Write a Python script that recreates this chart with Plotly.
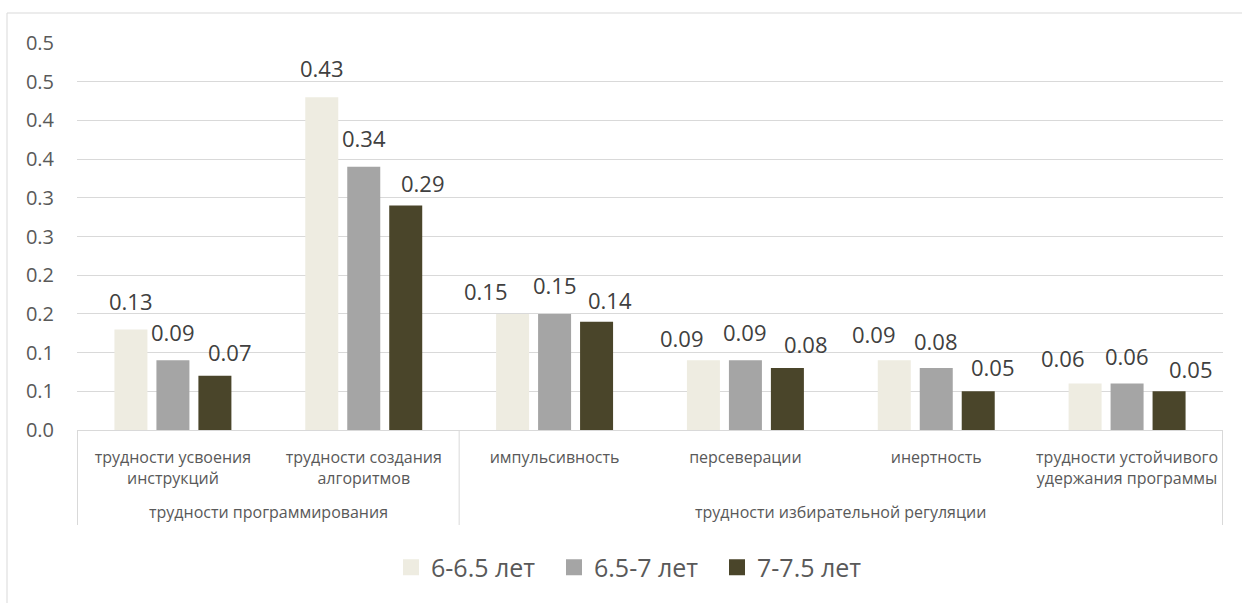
import plotly.graph_objects as go

# ---------------- data ----------------
categories = [
    "трудности усвоения инструкций",
    "трудности создания алгоритмов",
    "импульсивность",
    "персеверации",
    "инертность",
    "трудности устойчивого удержания программы",
]
category_ticklabels = [
    "трудности усвоения<br>инструкций",
    "трудности создания<br>алгоритмов",
    "импульсивность",
    "персеверации",
    "инертность",
    "трудности устойчивого<br>удержания программы",
]
groups = ["трудности программирования", "трудности избирательной регуляции"]
group_members = [[0, 1], [2, 3, 4, 5]]

series_names = ["6-6.5 лет", "6.5-7 лет", "7-7.5 лет"]
values_6_65 = [0.13, 0.43, 0.15, 0.09, 0.09, 0.06]
values_65_7 = [0.09, 0.34, 0.15, 0.09, 0.08, 0.06]
values_7_75 = [0.07, 0.29, 0.14, 0.08, 0.05, 0.05]
series_values = [values_6_65, values_65_7, values_7_75]

y_tickvals = [0.0, 0.05, 0.1, 0.15, 0.2, 0.25, 0.3, 0.35, 0.4, 0.45, 0.5]
y_ticktext = ["0.0", "0.1", "0.1", "0.2", "0.2", "0.3", "0.3", "0.4", "0.4", "0.5", "0.5"]

# ---------------- style ----------------
colors = ["#EEECE1", "#A5A5A5", "#4A452A"]
GRID = "#d9d9d9"
TEXT = "#595959"
LABEL = "#404040"
FONT = "Open Sans"

BAR_PITCH = 42          # px between neighbouring bars of one group
# data-label nudges (px) as placed in the original chart to avoid overlaps
label_dx = [
    [0, 0, -27, -21, -20, -22],
    [0, 0, 0, 0, 0, 0],
    [15, 17, 13, 19, 15, 22],
]
label_gap = [
    [19, 20, 13, 13, 17, 16],
    [19, 19, 19, 19, 18, 18],
    [14, 13, 12, 15, 15, 13],
]
DESCENT = 7.5

fig = go.Figure()

for name, vals, col in zip(series_names, series_values, colors):
    fig.add_trace(go.Bar(
        x=categories, y=vals, name=name,
        marker=dict(color=col, line=dict(width=0)),
        showlegend=False,
    ))

# legend entries with larger square symbols
for name, col in zip(series_names, colors):
    fig.add_trace(go.Scatter(
        x=[None], y=[None], name=name, mode="markers",
        marker=dict(symbol="square", size=16, color=col),
        showlegend=True,
    ))

annotations = []
for si, vals in enumerate(series_values):
    for ci, v in enumerate(vals):
        annotations.append(dict(
            x=categories[ci], xref="x", y=v, yref="y",
            xshift=(si - 1) * BAR_PITCH + label_dx[si][ci],
            yshift=label_gap[si][ci] - DESCENT,
            yanchor="bottom", xanchor="center",
            text=f"{v:.2f}", showarrow=False,
            font=dict(size=22, color=LABEL, family=FONT),
        ))

for gname, members in zip(groups, group_members):
    annotations.append(dict(
        x=sum(members) / len(members), xref="x",
        y=0, yref="paper", yshift=-82, yanchor="middle",
        text=gname, showarrow=False,
        font=dict(size=16, color=TEXT, family=FONT),
    ))

shapes = []
# group dividers on category axis
bounds = [-0.5]
for g in group_members:
    bounds.append(g[-1] + 0.5)
for b in bounds:
    shapes.append(dict(
        type="line", xref="x", x0=b, x1=b,
        yref="paper", ysizemode="pixel", yanchor=0, y0=0, y1=-95,
        line=dict(color=GRID, width=1),
    ))
# chart border
shapes.append(dict(
    type="rect", xref="paper", xsizemode="pixel", xanchor=0, x0=-70, x1=1200,
    yref="paper", ysizemode="pixel", yanchor=1, y0=30, y1=-620,
    line=dict(color=GRID, width=1), fillcolor="rgba(0,0,0,0)", layer="below",
))

fig.update_layout(
    width=1242, height=603,
    margin=dict(l=77, r=19, t=43, b=171),
    paper_bgcolor="white", plot_bgcolor="white",
    font=dict(family=FONT, color=TEXT),
    barmode="group", bargap=0.34, bargroupgap=0.214,
    shapes=shapes, annotations=annotations,
    legend=dict(
        orientation="h", x=0.274, xanchor="left", y=-0.355, yanchor="middle",
        font=dict(size=25, color=TEXT, family=FONT),
        entrywidth=118, entrywidthmode="pixels",
        itemclick=False,
    ),
    xaxis=dict(
        tickmode="array", tickvals=categories, ticktext=category_ticklabels,
        showline=True, linecolor=GRID, linewidth=1,
        ticks="", showgrid=False, zeroline=False,
        tickfont=dict(size=16, color=TEXT, family=FONT),
        ticklabelstandoff=13,
    ),
    yaxis=dict(
        range=[0, 0.5], tickmode="array", tickvals=y_tickvals, ticktext=y_ticktext,
        showgrid=True, gridcolor=GRID, gridwidth=1, zeroline=False,
        showline=False, ticks="",
        tickfont=dict(size=20, color=TEXT, family=FONT),
        ticklabelstandoff=22,
    ),
)

fig.write_html("out.html")
